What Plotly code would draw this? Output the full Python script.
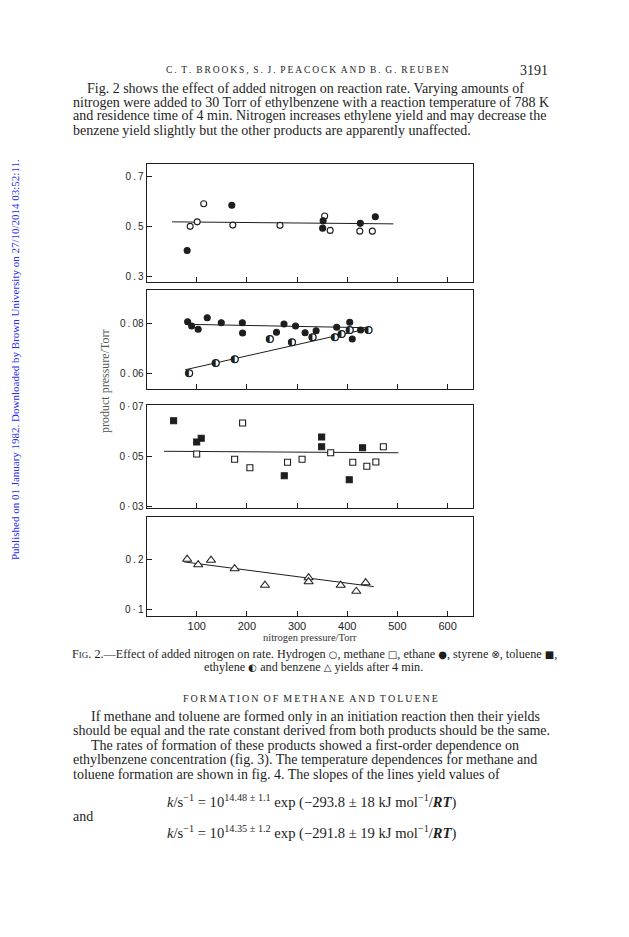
import plotly.graph_objects as go

# page is 629x937; the browser body adds an 8px margin, so the figure is 8px smaller
OFF = 8
W, H = 629 - OFF, 937 - OFF

# ---------------- data ----------------
x_ticks = [100, 200, 300, 400, 500, 600]

# Panel 1: hydrogen (open circle) and styrene (circle-x)
h2_x = [87, 101, 114, 172, 266, 355, 366, 425, 450]
h2_y = [0.500, 0.518, 0.590, 0.505, 0.504, 0.541, 0.484, 0.481, 0.481]
sty_x = [81, 170, 352, 351, 426, 456]
sty_y = [0.404, 0.584, 0.522, 0.493, 0.512, 0.538]
p1_fit_x = [51, 492]
p1_fit_y = [0.518, 0.510]
p1_ticks = [0.3, 0.5, 0.7]
p1_labels = ["0\u2009.\u20093", "0\u2009.\u20095", "0\u2009.\u20097"]

# Panel 2: ethane (filled circle) and ethylene (half-filled circle)
ethane_x = [82, 90, 103, 121, 149, 191, 191.5, 259, 274, 297, 316, 338, 379, 405, 410, 426.6]
ethane_y = [0.0806, 0.0789, 0.0776, 0.0822, 0.0802, 0.0802, 0.0761, 0.0764, 0.0797,
            0.0789, 0.0762, 0.0770, 0.0784, 0.0804, 0.0737, 0.0773]
ethylene_x = [85, 138, 176, 246, 290, 331, 375.5, 389, 405, 442.5]
ethylene_y = [0.0600, 0.0641, 0.0656, 0.0737, 0.0724, 0.0744, 0.0744, 0.0757, 0.0773, 0.0773]
ethane_fit_x = [77, 445]
ethane_fit_y = [0.0796, 0.0782]
ethylene_fit_x = [77, 445]
ethylene_fit_y = [0.0614, 0.0780]
p2_ticks = [0.06, 0.08]
p2_labels = ["0\u2009.\u200906", "0\u2009.\u200908"]

# Panel 3: toluene (filled square) and methane (open square)
toluene_x = [54, 100, 109, 274.5, 349, 349, 404, 430.5]
toluene_y = [0.0641, 0.0556, 0.0571, 0.0421, 0.0576, 0.0537, 0.0405, 0.0533]
methane_x = [100, 175.6, 191.5, 206, 281, 310, 367, 411, 439, 457, 472]
methane_y = [0.0508, 0.0487, 0.0632, 0.0453, 0.0475, 0.0487, 0.0513, 0.0475, 0.0459, 0.0476, 0.0537]
p3_fit_x = [35, 502]
p3_fit_y = [0.0519, 0.0513]
p3_ticks = [0.03, 0.05, 0.07]
p3_labels = ["0\u2009·\u200903", "0\u2009·\u200905", "0\u2009·\u200907"]

# Panel 4: benzene (open triangle)
benzene_x = [81, 103, 128.5, 175.6, 236, 323, 323, 387, 418, 436.6]
benzene_y = [0.200, 0.189, 0.198, 0.181, 0.148, 0.163, 0.155, 0.148, 0.136, 0.153]
p4_fit_x = [75, 453]
p4_fit_y = [0.1947, 0.1453]
p4_ticks = [0.1, 0.2]
p4_labels = ["0\u2009·\u20091", "0\u2009.\u20092"]

# ---------------- styling ----------------
INK = "#1e1e1e"
SERIF = "Liberation Serif"
SANS = "Liberation Sans"

fig = go.Figure()

def pts(x, y, ax, symbol, filled=False, size=6, lw=1.1):
    fig.add_trace(go.Scatter(
        x=x, y=y, mode="markers", xaxis="x" + ax, yaxis="y" + ax,
        marker=dict(symbol=symbol, size=size,
                    color=INK if filled else "white",
                    line=dict(color=INK, width=lw)),
        showlegend=False, hoverinfo="skip"))

def fit(x, y, ax):
    fig.add_trace(go.Scatter(
        x=x, y=y, mode="lines", xaxis="x" + ax, yaxis="y" + ax,
        line=dict(color=INK, width=1), showlegend=False, hoverinfo="skip"))

# panel 1
fit(p1_fit_x, p1_fit_y, "")
pts(h2_x, h2_y, "", "circle", size=6)
pts(sty_x, sty_y, "", "circle-x", filled=True, size=6)
# panel 2
fit(ethane_fit_x, ethane_fit_y, "2")
fit(ethylene_fit_x, ethylene_fit_y, "2")
pts(ethane_x, ethane_y, "2", "circle", filled=True, size=6)
pts(ethylene_x, ethylene_y, "2", "circle", size=7, lw=1.1)
fig.add_trace(go.Scatter(
    x=ethylene_x, y=ethylene_y, mode="text", xaxis="x2", yaxis="y2",
    text=["◐"] * len(ethylene_x), textposition="middle center",
    textfont=dict(family="DejaVu Sans", size=10, color=INK),
    showlegend=False, hoverinfo="skip"))
# panel 3
fit(p3_fit_x, p3_fit_y, "3")
pts(toluene_x, toluene_y, "3", "square", filled=True, size=6)
pts(methane_x, methane_y, "3", "square", size=6)
# panel 4
fit(p4_fit_x, p4_fit_y, "4")
pts(benzene_x, benzene_y, "4", "triangle-up", size=8)

def px(x):
    return (x - OFF) / W

def pyv(y):
    return 1 - (y - OFF) / H

def py(top, bottom):
    return [pyv(bottom), pyv(top)]

xdom = [px(146.5), px(472.7)]
panels = [
    ("", py(164, 281.7), [0.280, 0.748], p1_ticks, p1_labels),
    ("2", py(290, 389.3), [0.0536, 0.0933], p2_ticks, p2_labels),
    ("3", py(405, 508.3), [0.0291, 0.0704], p3_ticks, p3_labels),
    ("4", py(516.7, 616), [0.0866, 0.285], p4_ticks, p4_labels),
]

layout = dict(
    width=W, height=H, margin=dict(l=0, r=0, t=0, b=0, autoexpand=False),
    paper_bgcolor="white", plot_bgcolor="white", showlegend=False,
)
for i, (ax, dom, rng, tv, tt) in enumerate(panels):
    layout["xaxis" + ax] = dict(
        domain=xdom, range=[0, 650], anchor="y" + ax,
        tickvals=x_ticks, ticktext=[str(v) for v in x_ticks],
        showticklabels=(ax == "4"), ticks="inside", ticklen=5, tickcolor=INK,
        showline=True, mirror=True, linecolor=INK, linewidth=1,
        showgrid=False, zeroline=False,
        tickfont=dict(family=SANS, size=11, color=INK),
    )
    layout["yaxis" + ax] = dict(
        domain=dom, range=rng, anchor="x" + ax,
        tickvals=tv, ticktext=tt, ticks="inside", ticklen=5, tickcolor=INK,
        showline=True, mirror=True, linecolor=INK, linewidth=1,
        showgrid=False, zeroline=False,
        tickfont=dict(family=SANS, size=10, color=INK),
    )
fig.update_layout(**layout)

# ---------------- page text ----------------
ann = []
def txt(s, x, y, size=14, xanchor="left", family=SERIF, color=INK, angle=0):
    ann.append(dict(text=s, x=px(x), y=pyv(y), xref="paper", yref="paper",
                    xanchor=xanchor, yanchor="middle", showarrow=False,
                    textangle=angle, font=dict(family=family, size=size, color=color)))

def spaced(s):
    return "\u2009".join(list(s)).replace("\u2009 \u2009", "\u2002")

txt(spaced("C. T. BROOKS, S. J. PEACOCK AND B. G. REUBEN"), 307, 70, size=9.5, xanchor="center")
txt("3191", 550, 70, size=14, xanchor="right")

para1 = [
    (85, 88, "Fig. 2 shows the effect of added nitrogen on reaction rate. Varying amounts of"),
    (71, 102, "nitrogen were added to 30 Torr of ethylbenzene with a reaction temperature of 788 K"),
    (71, 116, "and residence time of 4 min. Nitrogen increases ethylene yield and may decrease the"),
    (71, 130, "benzene yield slightly but the other products are apparently unaffected."),
]
for x, y, s in para1:
    txt(s, x, y, size=14)

txt("product pressure/Torr", 96, 382, size=12, angle=-90, color="#555")
txt("nitrogen pressure/Torr", 310, 637, size=10.5, xanchor="center", color="#333")

GL = "<span style='font-family:DejaVu Sans;font-size:10px'>%s</span>"
txt("F<span style='font-size:9px'>IG</span>. 2.—Effect of added nitrogen on rate. Hydrogen "
    + GL % "○" + ", methane " + GL % "□" + ", ethane " + GL % "●" + ", styrene "
    + GL % "⊗" + ", toluene " + GL % "■" + ",",
    314, 654, size=12.2, xanchor="center")
txt("ethylene " + GL % "◐" + " and benzene " + GL % "△" + " yields after 4 min.",
    313, 667, size=12.2, xanchor="center")

txt(spaced("FORMATION OF METHANE AND TOLUENE"), 310, 698, size=10, xanchor="center")

para2 = [
    (89, 716, "If methane and toluene are formed only in an initiation reaction then their yields"),
    (71, 730.5, "should be equal and the rate constant derived from both products should be the same."),
    (89, 745, "The rates of formation of these products showed a first-order dependence on"),
    (71, 759.5, "ethylbenzene concentration (fig. 3). The temperature dependences for methane and"),
    (71, 774, "toluene formation are shown in fig. 4. The slopes of the lines yield values of"),
]
for x, y, s in para2:
    txt(s, x, y, size=14)

txt("<i>k</i>/s<sup>−1</sup> = 10<sup>14.48 ± 1.1</sup> exp (−293.8 ± 18 kJ mol<sup>−1</sup>/<b><i>RT</i></b>)",
    165, 801, size=14.6)
txt("and", 71, 816, size=14)
txt("<i>k</i>/s<sup>−1</sup> = 10<sup>14.35 ± 1.2</sup> exp (−291.8 ± 19 kJ mol<sup>−1</sup>/<b><i>RT</i></b>)",
    165, 832, size=14.6)

txt("Published on 01 January 1982. Downloaded by Brown University on 27/10/2014 03:52:11.",
    15, 360, size=11, angle=-90, color="#2a2aee", xanchor="center")

fig.update_layout(annotations=ann)
fig.write_html("out.html")
